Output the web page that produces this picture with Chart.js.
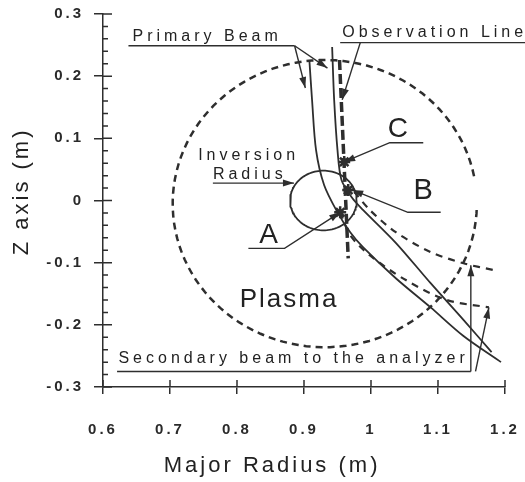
<!DOCTYPE html>
<html lang="en">
<head>
<meta charset="UTF-8">
<title>Beam trajectories</title>
<script src="https://cdn.jsdelivr.net/npm/chart.js"></script>
<style>
  html, body { margin: 0; padding: 0; background: #fff; }
  canvas { display: block; }
</style>
</head>
<body>
<canvas id="beamChart" width="525" height="482"></canvas>
<script>
// axis ticks (m)
const radiusTicks = [0.6, 0.7, 0.8, 0.9, 1.0, 1.1, 1.2];
const zTicks = [-0.3, -0.2, -0.1, 0, 0.1, 0.2, 0.3];

// primary beams (R, Z in m)
const beamInnerR = [0.908, 0.912, 0.918, 0.930, 0.950, 0.969, 0.988, 1.037, 1.089, 1.138, 1.194];
const beamInnerZ = [0.226, 0.162, 0.081, 0.025, -0.019, -0.051, -0.075, -0.125, -0.172, -0.218, -0.260];
const beamOuterR = [0.942, 0.945, 0.950, 0.956, 0.972, 0.988, 1.037, 1.089, 1.138, 1.180];
const beamOuterZ = [0.247, 0.162, 0.081, 0.033, 0.004, -0.015, -0.068, -0.133, -0.192, -0.244];

// secondary beams
const secondary1R = [0.975, 0.998, 1.037, 1.089, 1.138, 1.183];
const secondary1Z = [0.014, -0.015, -0.051, -0.083, -0.101, -0.112];
const secondary2R = [0.954, 0.969, 0.998, 1.052, 1.113, 1.176];
const secondary2Z = [-0.019, -0.056, -0.088, -0.128, -0.160, -0.172];

// observation line
const observationR = [0.953, 0.966];
const observationZ = [0.226, -0.093];

// sample points A, B, C
const sampleR = [0.954, 0.966, 0.960];
const sampleZ = [-0.019, 0.017, 0.062];

// plasma boundary and inversion radius
const plasmaCentre = [0.931, -0.005];
const plasmaRadii = [0.227, 0.231];
const plasmaGapDeg = [-1, 11];
const inversionCentre = [0.929, 0.0];
const inversionRadii = [0.0497, 0.048];

// leader lines of the labels
const leaderLines = [
  { r: [0.638, 0.886], z: [0.249, 0.249] },
  { r: [0.886, 0.902], z: [0.249, 0.181], arrow: true },
  { r: [0.886, 0.935], z: [0.249, 0.213], arrow: true },
  { r: [0.954, 1.232], z: [0.254, 0.254] },
  { r: [0.984, 0.957], z: [0.254, 0.162], arrow: true },
  { r: [1.078, 1.028, 0.960], z: [0.093, 0.093, 0.062], arrow: true },
  { r: [1.104, 1.055, 0.972], z: [-0.019, -0.019, 0.017], arrow: true },
  { r: [0.817, 0.871, 0.954], z: [-0.077, -0.077, -0.019], arrow: true },
  { r: [0.764, 0.885], z: [0.028, 0.028], arrow: true },
  { r: [0.621, 1.149], z: [-0.275, -0.275] },
  { r: [1.149, 1.149], z: [-0.275, -0.104], arrow: true },
  { r: [1.156, 1.176], z: [-0.275, -0.172], arrow: true }
];

const labels = [
  { text: 'Primary Beam', r: 0.644, z: 0.263, size: 16, align: 'left' },
  { text: 'Observation Line', r: 0.957, z: 0.270, size: 16, align: 'left' },
  { text: 'Inversion', r: 0.742, z: 0.073, size: 16, align: 'left' },
  { text: 'Radius', r: 0.764, z: 0.041, size: 16, align: 'left' },
  { text: 'A', r: 0.850, z: -0.056, size: 28, align: 'center' },
  { text: 'B', r: 1.081, z: 0.015, size: 29, align: 'center' },
  { text: 'C', r: 1.043, z: 0.114, size: 28, align: 'center' },
  { text: 'Plasma', r: 0.804, z: -0.160, size: 26, align: 'left', spacing: 2 },
  { text: 'Secondary beam to the analyzer', r: 0.623, z: -0.254, size: 16, align: 'left' }
];

const ink = '#2e2e2e';

function pts(rs, zs) {
  return rs.map((r, i) => ({ x: r, y: zs[i] }));
}

function ring(c, rad, fromDeg, toDeg) {
  const out = [];
  for (let a = fromDeg; a <= toDeg; a += 3) {
    const t = a * Math.PI / 180;
    out.push({ x: c[0] + rad[0] * Math.cos(t), y: c[1] + rad[1] * Math.sin(t) });
  }
  return out;
}

function line(data, extra) {
  return Object.assign({
    data: data, showLine: true, pointRadius: 0, borderColor: ink,
    borderWidth: 1.8, tension: 0, clip: false, fill: false
  }, extra || {});
}

const datasets = [
  line(ring(plasmaCentre, plasmaRadii, plasmaGapDeg[1], 360 + plasmaGapDeg[0]), { borderDash: [7, 5], borderWidth: 2.5 }),
  line(ring(inversionCentre, inversionRadii, 0, 360)),
  line(pts(beamInnerR, beamInnerZ), { tension: 0.3 }),
  line(pts(beamOuterR, beamOuterZ), { tension: 0.3 }),
  line(pts(secondary1R, secondary1Z), { tension: 0.3, borderDash: [7, 6], borderWidth: 2.2 }),
  line(pts(secondary2R, secondary2Z), { tension: 0.3, borderDash: [7, 6], borderWidth: 2.2 }),
  line(pts(observationR, observationZ), { borderDash: [10, 4], borderWidth: 3.5 }),
  {
    data: pts(sampleR, sampleZ), pointStyle: 'star', pointRadius: 6,
    borderColor: ink, borderWidth: 2.5, backgroundColor: ink, clip: false
  }
];
leaderLines.forEach(l => datasets.push(line(pts(l.r, l.z), { borderWidth: 1.4, arrow: !!l.arrow })));

const spacing = {
  id: 'spacing',
  beforeUpdate(chart) { chart.ctx.letterSpacing = '3px'; },
  beforeDraw(chart) { chart.ctx.letterSpacing = '3px'; }
};

const arrowHeads = {
  id: 'arrowHeads',
  afterDatasetsDraw(chart) {
    const { ctx } = chart;
    ctx.save();
    ctx.fillStyle = ink;
    chart.data.datasets.forEach((ds, i) => {
      if (!ds.arrow) return;
      const pts = chart.getDatasetMeta(i).data;
      const a = pts[pts.length - 2], b = pts[pts.length - 1];
      const ang = Math.atan2(b.y - a.y, b.x - a.x);
      const len = 11, half = 3.5;
      ctx.beginPath();
      ctx.moveTo(b.x, b.y);
      ctx.lineTo(b.x - len * Math.cos(ang) + half * Math.sin(ang), b.y - len * Math.sin(ang) - half * Math.cos(ang));
      ctx.lineTo(b.x - len * Math.cos(ang) - half * Math.sin(ang), b.y - len * Math.sin(ang) + half * Math.cos(ang));
      ctx.closePath();
      ctx.fill();
    });
    ctx.restore();
  }
};

const textLabels = {
  id: 'textLabels',
  afterDatasetsDraw(chart) {
    const { ctx, scales: { x, y } } = chart;
    ctx.save();
    ctx.fillStyle = '#222';
    ctx.textBaseline = 'middle';
    labels.forEach(l => {
      ctx.font = l.size + 'px "Liberation Sans", Arial, sans-serif';
      ctx.letterSpacing = (l.spacing !== undefined ? l.spacing : 4) + 'px';
      ctx.textAlign = l.align;
      ctx.fillText(l.text, x.getPixelForValue(l.r), y.getPixelForValue(l.z));
    });
    ctx.restore();
  }
};

const innerTicks = {
  id: 'innerTicks',
  afterDraw(chart) {
    const { ctx, scales: { x, y } } = chart;
    ctx.save();
    ctx.strokeStyle = ink;
    ctx.lineWidth = 1.5;
    ctx.beginPath();
    for (let i = -15; i <= 15; i++) {
      const py = y.getPixelForValue(i * 0.02);
      const len = i % 5 === 0 ? 9 : 5;
      ctx.moveTo(x.left, py);
      ctx.lineTo(x.left + len, py);
    }
    radiusTicks.forEach(v => {
      const px = x.getPixelForValue(v);
      ctx.moveTo(px, y.bottom);
      ctx.lineTo(px, y.bottom - 7);
    });
    ctx.stroke();
    ctx.restore();
  }
};

const tickFont = { family: '"Liberation Sans", Arial, sans-serif', size: 15, weight: 'bold' };
const titleFont = { family: '"Liberation Sans", Arial, sans-serif', size: 22 };
const fmt = v => String(parseFloat(Number(v).toFixed(1)));

new Chart(document.getElementById('beamChart'), {
  type: 'scatter',
  data: { datasets: datasets },
  plugins: [spacing, arrowHeads, textLabels, innerTicks],
  options: {
    responsive: false,
    animation: false,
    layout: { padding: { top: 14, right: 20, bottom: 0, left: 0 } },
    plugins: { legend: { display: false }, tooltip: { enabled: false } },
    scales: {
      x: {
        type: 'linear', min: 0.6, max: 1.2,
        afterBuildTicks: s => { s.ticks = radiusTicks.map(v => ({ value: v })); },
        afterFit: s => { s.height = 95; s.paddingLeft = 0; s.paddingRight = 0; },
        ticks: { color: '#2a2a2a', font: tickFont, padding: 27, maxRotation: 0, callback: fmt },
        grid: { drawOnChartArea: false, tickLength: 7, color: ink, lineWidth: 1.5 },
        border: { color: ink, width: 1.5 },
        title: {
          display: true, text: 'Major Radius (m)' + '\u00a0'.repeat(7),
          color: '#222', font: titleFont, padding: { top: 0, bottom: 3 }
        }
      },
      y: {
        type: 'linear', min: -0.3, max: 0.3,
        afterBuildTicks: s => { s.ticks = zTicks.map(v => ({ value: v })); },
        afterFit: s => { s.width = 103; s.paddingTop = 0; s.paddingBottom = 0; },
        ticks: { color: '#2a2a2a', font: tickFont, padding: 10, callback: fmt },
        grid: { drawOnChartArea: false, tickLength: 9, color: ink, lineWidth: 1.5 },
        border: { color: ink, width: 1.5 },
        title: {
          display: true, text: '\u00a0\u00a0Z axis (m)',
          color: '#222', font: titleFont, padding: { top: 9, bottom: 0 }
        }
      }
    }
  }
});
</script>
</body>
</html>
